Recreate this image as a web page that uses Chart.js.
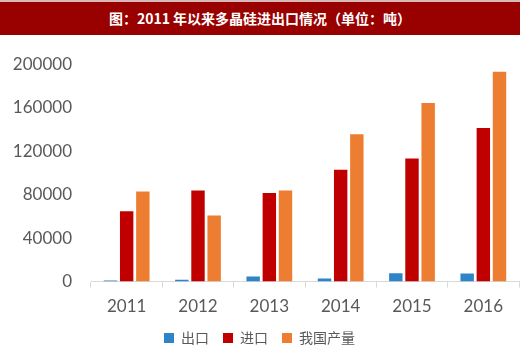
<!DOCTYPE html>
<html>
<head>
<meta charset="utf-8">
<script src="https://cdn.jsdelivr.net/npm/chart.js@4/dist/chart.umd.min.js"></script>
<style>
  html, body { margin: 0; padding: 0; background: #ffffff; }
  #wrap { position: relative; width: 520px; height: 359px; overflow: hidden; }
  #title {
    position: absolute; left: 0; top: 0; width: 520px; height: 35px;
    background: #990000; border-top: 2px solid #d9b8b8; box-sizing: border-box;
    color: #ffffff; font-family: "Noto Sans CJK SC", sans-serif; font-weight: bold;
    font-size: 14px; line-height: 32px; text-align: center;
  }
  #box { position: absolute; left: 0; top: 35px; width: 520px; height: 324px; }
</style>
</head>
<body>
<div id="wrap">
  <div id="title">图：2011 年以来多晶硅进出口情况（单位：吨）</div>
  <div id="box"><canvas id="c"></canvas></div>
</div>
<script>
const categories = ["2011", "2012", "2013", "2014", "2015", "2016"];
const exportValues = [1000, 1800, 4800, 2800, 7600, 7500];
const importValues = [64800, 83700, 81600, 102900, 113200, 141200];
const productionValues = [82800, 60900, 83700, 135500, 164400, 193000];
const seriesNames = ["出口", "进口", "我国产量"];
const yTicks = [0, 40000, 80000, 120000, 160000, 200000];

new Chart(document.getElementById("c"), {
  type: "bar",
  data: {
    labels: categories,
    datasets: [
      { label: seriesNames[0], data: exportValues, backgroundColor: "#2E84C6" },
      { label: seriesNames[1], data: importValues, backgroundColor: "#C00000" },
      { label: seriesNames[2], data: productionValues, backgroundColor: "#ED7D31" }
    ]
  },
  options: {
    responsive: true,
    maintainAspectRatio: false,
    animation: false,
    datasets: { bar: { categoryPercentage: 0.68, barPercentage: 0.83 } },
    layout: { padding: { left: 0, right: 1, top: 20, bottom: 4 } },
    plugins: {
      tooltip: { enabled: false },
      legend: {
        position: "bottom",
        labels: {
          boxWidth: 10, boxHeight: 10, padding: 14,
          color: "#595959",
          font: { family: "'Noto Sans CJK SC', sans-serif", size: 14 }
        }
      }
    },
    scales: {
      x: {
        offset: true,
        afterFit: (axis) => { axis.height -= 9; },
        grid: { display: true, drawOnChartArea: false, tickLength: 6, color: "#d9d9d9", offset: true },
        border: { display: true, color: "#d9d9d9" },
        ticks: { color: "#595959", font: { family: "Lato, sans-serif", size: 17 }, padding: 9 }
      },
      y: {
        min: 0, max: 200000,
        afterFit: (axis) => { axis.width = 91; },
        afterBuildTicks: (axis) => { axis.ticks = yTicks.map(v => ({ value: v })); },
        grid: { display: false, drawTicks: false },
        border: { display: false },
        ticks: {
          color: "#595959", font: { family: "Lato, sans-serif", size: 17 }, padding: 19,
          callback: (v) => String(v)
        }
      }
    }
  }
});
</script>
</body>
</html>
